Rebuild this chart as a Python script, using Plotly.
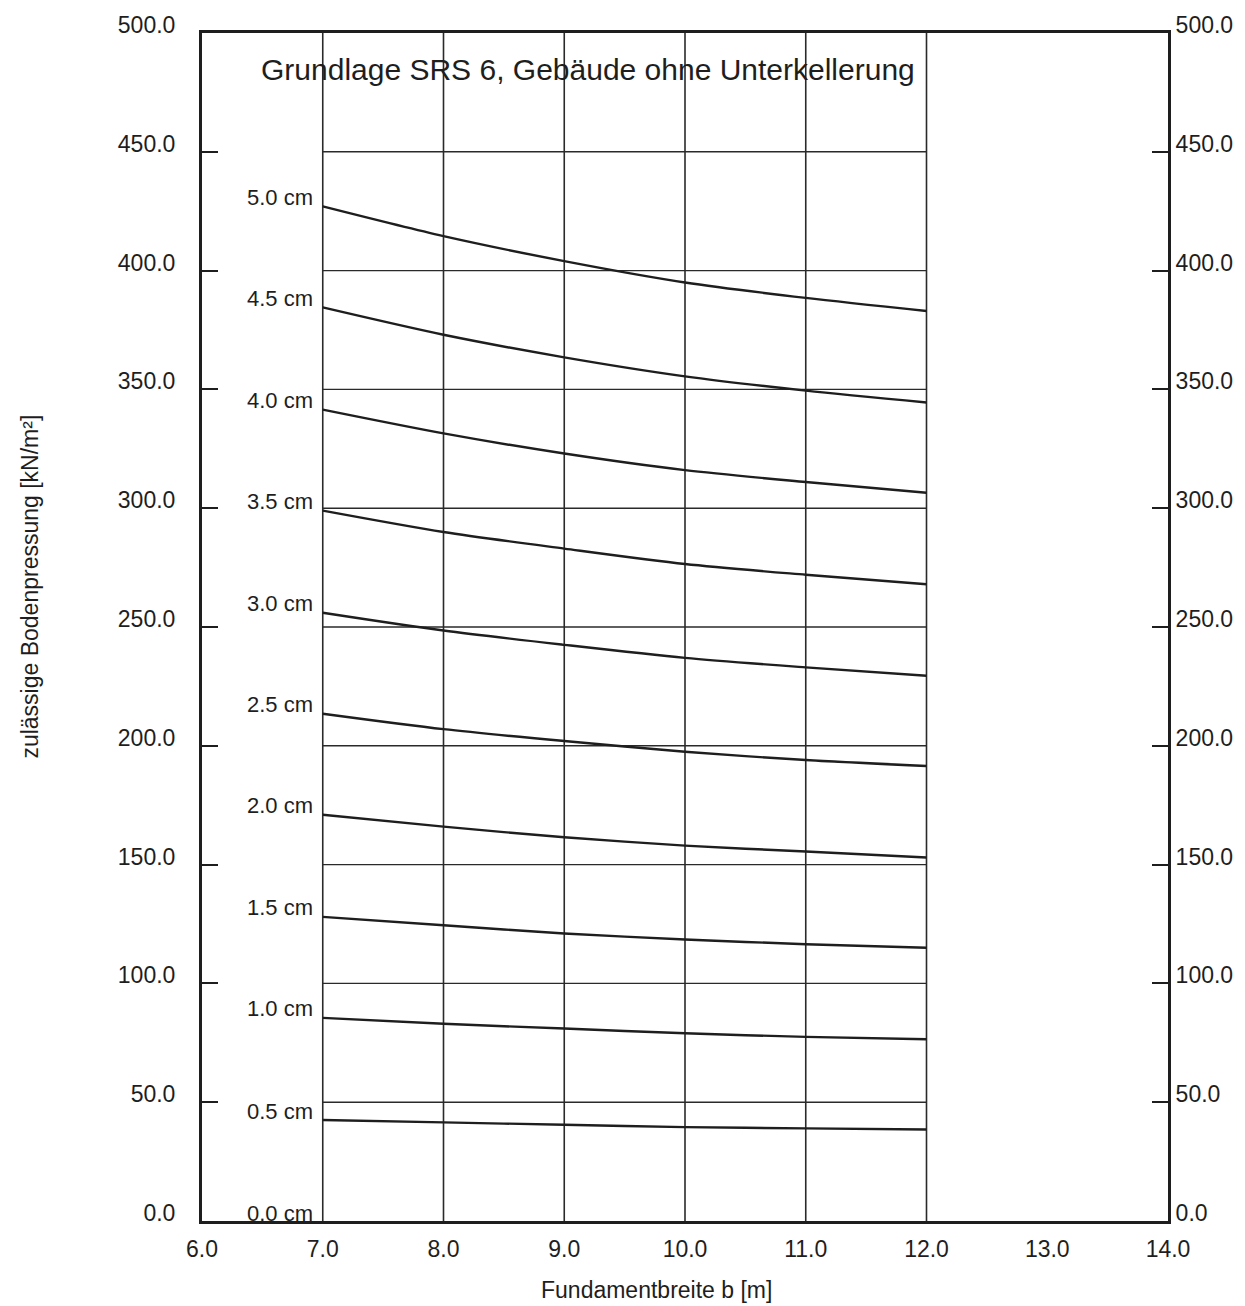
import plotly.graph_objects as go

# ---- data ----
widths = [7.0, 8.0, 9.0, 10.0, 11.0, 12.0]
settlement_labels = ["0.5 cm", "1.0 cm", "1.5 cm", "2.0 cm", "2.5 cm",
                     "3.0 cm", "3.5 cm", "4.0 cm", "4.5 cm", "5.0 cm"]
s_05 = [42.5, 41.5, 40.5, 39.5, 39.0, 38.5]
s_10 = [85.5, 83.0, 81.0, 79.0, 77.5, 76.5]
s_15 = [128.0, 124.5, 121.0, 118.5, 116.5, 115.0]
s_20 = [171.0, 166.0, 161.5, 158.0, 155.5, 153.0]
s_25 = [213.5, 207.0, 202.0, 197.5, 194.0, 191.5]
s_30 = [256.0, 248.5, 242.5, 237.0, 233.0, 229.5]
s_35 = [299.0, 290.0, 283.0, 276.5, 272.0, 268.0]
s_40 = [341.5, 331.5, 323.0, 316.0, 311.0, 306.5]
s_45 = [384.5, 373.0, 363.5, 355.5, 349.5, 344.5]
s_50 = [427.0, 414.5, 404.0, 395.0, 388.5, 383.0]
series = [s_05, s_10, s_15, s_20, s_25, s_30, s_35, s_40, s_45, s_50]

x_ticks = [6.0, 7.0, 8.0, 9.0, 10.0, 11.0, 12.0, 13.0, 14.0]
y_ticks = [0, 50, 100, 150, 200, 250, 300, 350, 400, 450, 500]
v_grid = [7.0, 8.0, 9.0, 10.0, 11.0, 12.0]
h_grid = [50, 100, 150, 200, 250, 300, 350, 400, 450]

title_text = "Grundlage SRS 6, Gebäude ohne Unterkellerung"
x_title = "Fundamentbreite b [m]"
y_title = "zulässige Bodenpressung [kN/m²]"

FONT = "Liberation Sans, Arial, sans-serif"
INK = "#1e1e1e"

fig = go.Figure()

for vals in series:
    fig.add_trace(go.Scatter(x=widths, y=vals, mode="lines",
                             line=dict(color=INK, width=2.4, shape="spline", smoothing=0.8),
                             showlegend=False, hoverinfo="skip"))

# invisible trace for right axis
fig.add_trace(go.Scatter(x=[6, 14], y=[0, 500], yaxis="y2", mode="markers",
                         marker=dict(opacity=0), showlegend=False, hoverinfo="skip"))

shapes = []
for gx in v_grid:
    shapes.append(dict(type="line", xref="x", yref="y", x0=gx, x1=gx, y0=0, y1=500,
                       line=dict(color="#2a2a2a", width=1.6), layer="below"))
for gy in h_grid:
    shapes.append(dict(type="line", xref="x", yref="y", x0=v_grid[0], x1=v_grid[-1], y0=gy, y1=gy,
                       line=dict(color="#2a2a2a", width=1.4), layer="below"))

annotations = []
for lab, vals in zip(settlement_labels, series):
    annotations.append(dict(x=widths[0], y=vals[0], xref="x", yref="y", text=lab,
                            showarrow=False, xanchor="right", yanchor="middle",
                            xshift=-8, yshift=9, font=dict(family=FONT, size=22, color=INK)))
annotations.append(dict(x=widths[0], y=0, xref="x", yref="y", text="0.0 cm",
                        showarrow=False, xanchor="right", yanchor="middle",
                        xshift=-8, yshift=8, font=dict(family=FONT, size=22, color=INK)))
annotations.append(dict(x=9.2, y=484.5, xref="x", yref="y", text=title_text,
                        showarrow=False, xanchor="center", yanchor="middle",
                        font=dict(family=FONT, size=30, color=INK)))
annotations.append(dict(x=0.4705, y=0, xref="paper", yref="paper", text=x_title,
                        showarrow=False, xanchor="center", yanchor="middle", yshift=-69,
                        font=dict(family=FONT, size=23, color=INK)))
annotations.append(dict(x=0, y=0.534, xref="paper", yref="paper", text=y_title,
                        showarrow=False, xanchor="center", yanchor="middle", xshift=-172,
                        textangle=-90, font=dict(family=FONT, size=23, color=INK)))

fig.update_layout(
    width=1245, height=1306,
    margin=dict(l=202, r=76, t=30, b=85),
    paper_bgcolor="white", plot_bgcolor="white",
    font=dict(family=FONT, size=23, color=INK),
    shapes=shapes, annotations=annotations,
    xaxis=dict(range=[6, 14], tickvals=x_ticks, ticktext=[f"{v:.1f}" for v in x_ticks],
               showgrid=False, zeroline=False, ticks="", showline=True, linewidth=3,
               linecolor=INK, mirror=True, ticklabelstandoff=5),
    yaxis=dict(range=[0, 500], tickvals=y_ticks, ticktext=[f"{v:.1f}" for v in y_ticks],
               showgrid=False, zeroline=False, ticks="inside", ticklen=16, tickwidth=1.5,
               tickcolor=INK, showline=True, linewidth=3, linecolor=INK,
               ticklabelstandoff=19, ticklabelshift=-8),
    yaxis2=dict(range=[0, 500], tickvals=y_ticks, ticktext=[f"{v:.1f}" for v in y_ticks],
                overlaying="y", side="right", showgrid=False, zeroline=False,
                ticks="inside", ticklen=16, tickwidth=1.5, tickcolor=INK,
                showline=True, linewidth=3, linecolor=INK,
                ticklabelstandoff=0, ticklabelshift=-8),
)

fig.write_html("out.html")
